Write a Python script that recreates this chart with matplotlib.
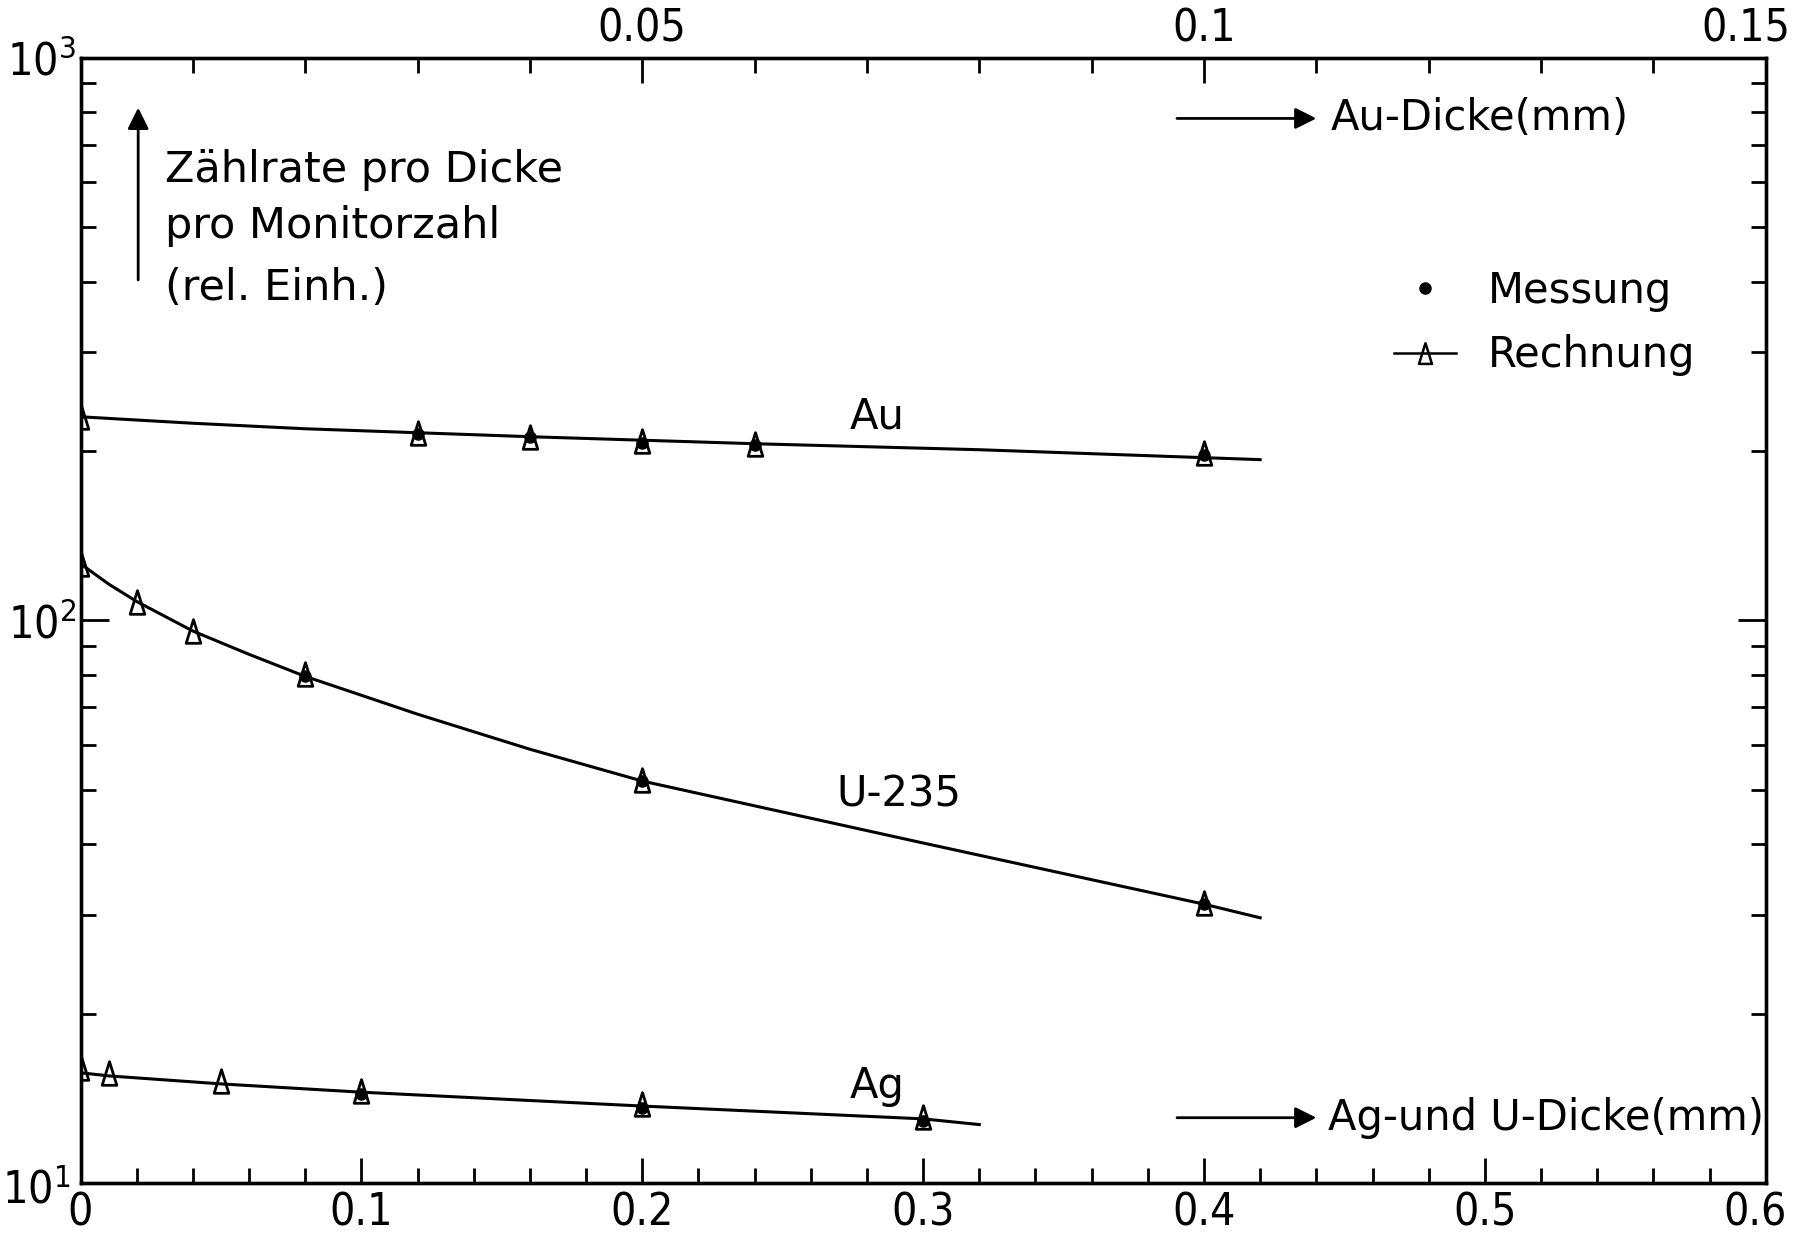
import matplotlib
matplotlib.use('Agg')
import matplotlib.pyplot as plt
from matplotlib.lines import Line2D
from matplotlib.path import Path
from matplotlib.transforms import ScaledTranslation
from matplotlib.ticker import MultipleLocator, LogLocator, NullFormatter

plt.rcParams['font.family'] = ['DejaVu Sans']

# Au: thickness on the top axis (mm)
au_x = [0.0, 0.03, 0.04, 0.05, 0.06, 0.10]
au_y = [230, 215, 212, 208, 206, 198]
au_mx = [0.03, 0.04, 0.05, 0.06, 0.10]
au_my = [214, 212, 207, 205, 197]
au_cx = [0.0, 0.01, 0.02, 0.04, 0.06, 0.08, 0.105]
au_cy = [230, 224, 219, 212, 206, 201, 193]

# U-235: thickness on the bottom axis (mm)
u_x = [0.0, 0.02, 0.04, 0.08, 0.2, 0.4]
u_y = [126, 108, 95.7, 80.4, 52.0, 31.5]
u_mx = [0.08, 0.2, 0.4]
u_my = [79.5, 51.8, 31.3]
u_cx = [0.0, 0.01, 0.02, 0.04, 0.06, 0.08, 0.12, 0.16, 0.2, 0.3, 0.4, 0.42]
u_cy = [126, 116, 108, 95.7, 87.0, 79.5, 68.1, 59.0, 51.8, 40.2, 31.3, 29.6]

# Ag: thickness on the bottom axis (mm)
ag_x = [0.0, 0.01, 0.05, 0.1, 0.2, 0.3]
ag_y = [16.0, 15.7, 15.2, 14.6, 13.8, 13.1]
ag_mx = [0.1, 0.2, 0.3]
ag_my = [14.4, 13.6, 12.9]
ag_cx = [0.0, 0.01, 0.05, 0.1, 0.2, 0.3, 0.32]
ag_cy = [15.7, 15.5, 15.0, 14.5, 13.7, 13.0, 12.7]

# tick labels
bottom_ticks = [0, 0.1, 0.2, 0.3, 0.4, 0.5, 0.6]
bottom_labels = ['0', '0.1', '0.2', '0.3', '0.4', '0.5', '0.6']
top_ticks = [0.05, 0.1, 0.15]
top_labels = ['0.05', '0.1', '0.15']
y_ticks = [10, 100, 1000]
y_labels = [r'$\mathregular{10^{1}}$', r'$\mathregular{10^{2}}$', r'$\mathregular{10^{3}}$']

fig = plt.figure(figsize=(18.06, 12.48), dpi=100)
ax = fig.add_axes([0.0446, 0.0521, 0.9331, 0.9017])
ax.set_yscale('log')
ax2 = ax.twiny()

# narrow open triangle like the hand drawn ones
tri_path = Path([(-0.62, -1.0), (0.62, -1.0), (0.0, 1.0), (-0.62, -1.0)],
                [Path.MOVETO, Path.LINETO, Path.LINETO, Path.CLOSEPOLY])

lw = 2.2
tri = dict(marker=tri_path, markersize=17, markerfacecolor='none', markeredgecolor='black',
           markeredgewidth=2.0, linestyle='none')
dot = dict(marker='o', markersize=8, color='black', linestyle='none')

ax2.plot(au_cx, au_cy, color='black', lw=lw)
ax2.plot(au_x, au_y, **tri)
ax2.plot(au_mx, au_my, **dot)

ax.plot(u_cx, u_cy, color='black', lw=lw)
ax.plot(u_x, u_y, **tri)
ax.plot(u_mx, u_my, **dot)

ax.plot(ag_cx, ag_cy, color='black', lw=lw)
ax.plot(ag_x, ag_y, **tri)
ax.plot(ag_mx, ag_my, **dot)

for a in (ax, ax2):
    for s in a.spines.values():
        s.set_linewidth(2.4)

tfs = 32
ax.set_xticks(bottom_ticks, labels=bottom_labels, fontsize=tfs, fontstretch='condensed')
ax.xaxis.set_minor_locator(MultipleLocator(0.02))
ax2.set_xticks(top_ticks, labels=top_labels, fontsize=tfs, fontstretch='condensed')
ax2.xaxis.set_minor_locator(MultipleLocator(0.01))
ax.set_yticks(y_ticks, labels=y_labels, fontsize=tfs, fontstretch='condensed')
ax.yaxis.set_minor_locator(LogLocator(base=10, subs=range(2, 10), numticks=20))
ax.yaxis.set_minor_formatter(NullFormatter())

ax.set_xlim(0, 0.6)
ax2.set_xlim(0, 0.15)
ax.set_ylim(10, 1000)

ax.tick_params(axis='x', which='major', direction='in', length=18, width=2.0, pad=6)
ax.tick_params(axis='x', which='minor', direction='in', length=11, width=2.0)
ax2.tick_params(axis='x', which='major', direction='in', length=18, width=2.0, pad=5)
ax2.tick_params(axis='x', which='minor', direction='in', length=11, width=2.0)
ax.tick_params(axis='y', which='major', direction='in', length=20, width=2.0, pad=3, right=True)
ax.tick_params(axis='y', which='minor', direction='in', length=11, width=2.0, right=True)

# small nudges of edge labels, as in the original
def nudge(label, dx, dy=0):
    label.set_transform(label.get_transform()
                        + ScaledTranslation(dx / 72, dy / 72, fig.dpi_scale_trans))

nudge(ax2.xaxis.get_major_ticks()[-1].label2, -14)
nudge(ax.xaxis.get_major_ticks()[-1].label1, -8)
nudge(ax.yaxis.get_major_ticks()[0].label1, -4, -2)

fs = 30
# curve labels
ax.text(0.274, 230, 'Au', fontsize=fs, ha='left', va='center')
ax.text(0.269, 49, 'U-235', fontsize=fs, ha='left', va='center')
ax.text(0.274, 14.9, 'Ag', fontsize=fs, ha='left', va='center')

# y annotation
arrow = dict(arrowstyle='-|>', color='black', lw=2.0, mutation_scale=32)
ax.annotate('', xy=(0.0342, 0.958), xytext=(0.0342, 0.80), xycoords='axes fraction',
            arrowprops=arrow)
ax.text(0.050, 0.900, 'Zählrate pro Dicke', transform=ax.transAxes, fontsize=31, va='center')
ax.text(0.050, 0.850, 'pro Monitorzahl', transform=ax.transAxes, fontsize=31, va='center')
ax.text(0.050, 0.795, '(rel. Einh.)', transform=ax.transAxes, fontsize=31, va='center')

# x annotations
ax.annotate('', xy=(0.735, 0.946), xytext=(0.649, 0.946), xycoords='axes fraction',
            arrowprops=arrow)
ax.text(0.742, 0.946, 'Au-Dicke(mm)', transform=ax.transAxes, fontsize=fs, va='center')
ax.annotate('', xy=(0.735, 0.058), xytext=(0.649, 0.058), xycoords='axes fraction',
            arrowprops=arrow)
ax.text(0.740, 0.058, 'Ag-und U-Dicke(mm)', transform=ax.transAxes, fontsize=fs, va='center')

# legend
handles = [Line2D([], [], **dot),
           Line2D([], [], color='black', lw=1.8, marker=tri_path, markersize=15,
                  markerfacecolor='none', markeredgecolor='black', markeredgewidth=1.8)]
ax.legend(handles, ['Messung', 'Rechnung'], loc='upper left', bbox_to_anchor=(0.757, 0.845),
          frameon=False, fontsize=fs, handlelength=1.5, handletextpad=0.75, labelspacing=0.55)

fig.savefig('out.png', dpi=100)
